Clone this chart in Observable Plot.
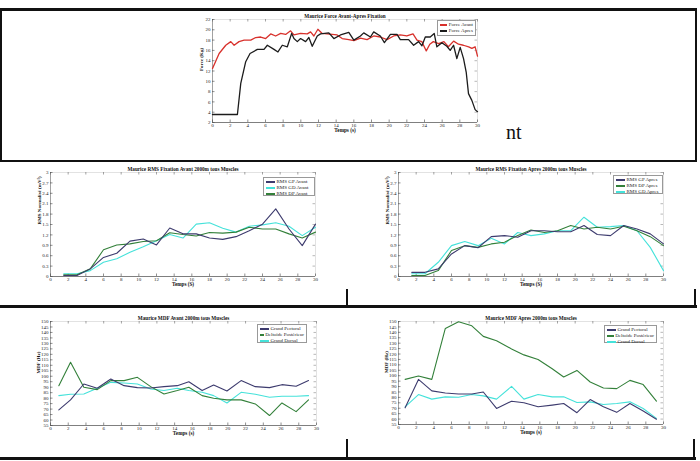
<!DOCTYPE html>
<html>
<head>
<meta charset="utf-8">
<script src="https://cdn.jsdelivr.net/npm/d3@7"></script>
<script src="https://cdn.jsdelivr.net/npm/@observablehq/plot@0.6"></script>
<style>
  html, body { margin: 0; padding: 0; background: #fff; }
  #page { position: relative; width: 700px; height: 461px; overflow: hidden; font-family: "Liberation Serif", "Times New Roman", serif; }
  .rule { position: absolute; background: #111; }
  .panel { position: absolute; }
  .legend { position: absolute; background: #fff; border: 0.7px solid #999; font-size: 5px; line-height: 6px; color: #222; padding: 1px 2px; box-sizing: border-box; }
  .legend .row { display: flex; align-items: center; white-space: nowrap; }
  .legend .swatch { display: inline-block; width: 9px; height: 1.4px; margin-right: 1.5px; }
  .stray { position: absolute; font-size: 20px; line-height: 20px; color: #111; }
</style>
</head>
<body>
<div id="page"></div>
<script>
// ---------- shared axis ticks ----------
const tempsTicks = [0, 2, 4, 6, 8, 10, 12, 14, 16, 18, 20, 22, 24, 26, 28, 30];
const forceTicks = [2, 4, 6, 8, 10, 12, 14, 16, 18, 20, 22];
const rmsTicks = [0, 0.3, 0.6, 0.9, 1.2, 1.5, 1.8, 2.1, 2.4, 2.7, 3];
const mdfTicks = [55, 60, 65, 70, 75, 80, 85, 90, 95, 100, 105, 110, 115, 120, 125, 130, 135, 140, 145, 150];

// ---------- Force (Kg) ----------
const forceAvantT = [0, 0.75, 1.5, 2.07, 2.45, 3.0, 3.58, 4.33, 4.89, 5.46, 6.02, 6.59, 7.15, 7.72, 8.28, 8.84, 9.22, 9.97, 10.73, 11.1, 11.48, 11.93, 12.42, 12.98, 14.11, 14.68, 15.43, 16.0, 16.75, 17.5, 18.25, 19.0, 19.76, 20.51, 21.26, 22.0, 22.7, 23.15, 23.7, 24.2, 24.6, 25.0, 25.6, 26.2, 26.7, 27.3, 27.85, 28.4, 29.0, 29.36, 29.73, 30];
const forceAvant = [12.5, 15.4, 17.0, 17.7, 17.0, 17.7, 18.0, 18.0, 18.5, 18.6, 18.3, 19.2, 18.8, 19.3, 19.1, 19.8, 19.0, 19.3, 19.2, 19.6, 18.8, 20.1, 19.3, 19.2, 19.0, 18.3, 18.1, 17.9, 18.4, 18.1, 18.8, 18.6, 18.1, 18.8, 19.0, 18.8, 19.2, 18.0, 17.7, 15.9, 17.2, 17.7, 17.3, 17.7, 16.7, 17.8, 17.2, 17.0, 16.7, 16.4, 16.7, 14.9];
const forceApresT = [0, 2.82, 3.2, 3.76, 4.25, 5.08, 5.83, 6.21, 6.96, 7.41, 7.9, 8.47, 8.96, 9.22, 9.6, 9.97, 10.54, 10.91, 11.29, 11.86, 12.23, 13.17, 13.74, 14.49, 15.43, 16.0, 16.75, 17.12, 17.88, 18.25, 19.0, 19.46, 20.14, 20.89, 21.26, 22.2, 22.77, 23.33, 23.71, 24.09, 24.65, 25.1, 25.4, 25.97, 26.53, 26.91, 27.29, 27.66, 28.04, 28.42, 28.72, 28.98, 29.36, 29.73, 30];
const forceApres = [3.55, 3.55, 9.6, 13.8, 15.4, 16.2, 16.2, 17.0, 16.2, 15.7, 17.0, 16.7, 19.3, 18.3, 17.7, 18.3, 17.7, 18.5, 16.8, 18.8, 19.2, 19.4, 18.3, 19.0, 19.5, 18.0, 18.8, 19.4, 18.6, 19.6, 18.8, 17.5, 19.1, 19.1, 18.1, 18.1, 17.0, 17.7, 16.9, 18.6, 18.6, 19.3, 16.7, 17.5, 16.8, 16.0, 17.0, 14.4, 16.6, 14.4, 11.8, 7.6, 6.3, 4.5, 4.1];

// ---------- RMS normalisé ----------
const rmsT = [1.5, 3, 4.5, 6, 7.5, 9, 10.5, 12, 13.5, 15, 16.5, 18, 19.5, 21, 22.5, 24, 25.5, 27, 28.5, 30];
const rmsGPAvant = [0.03, 0.03, 0.22, 0.55, 0.67, 1.02, 1.08, 0.91, 1.40, 1.23, 1.23, 1.11, 1.07, 1.15, 1.32, 1.51, 1.95, 1.37, 0.89, 1.51];
const rmsGDAvant = [0.08, 0.08, 0.17, 0.41, 0.51, 0.70, 0.86, 1.03, 1.21, 1.11, 1.51, 1.55, 1.39, 1.28, 1.45, 1.49, 1.55, 1.45, 1.18, 1.42];
const rmsDPAvant = [0.05, 0.05, 0.22, 0.77, 0.91, 0.94, 1.01, 1.03, 1.26, 1.21, 1.17, 1.27, 1.25, 1.28, 1.42, 1.37, 1.37, 1.23, 1.11, 1.28];
const rmsGPApres = [0.12, 0.12, 0.22, 0.65, 0.89, 0.83, 1.15, 1.18, 1.13, 1.32, 1.32, 1.29, 1.29, 1.47, 1.21, 1.18, 1.47, 1.37, 1.23, 0.94];
const rmsDPApres = [0.03, 0.03, 0.17, 0.75, 0.89, 0.84, 0.94, 0.99, 1.18, 1.34, 1.27, 1.32, 1.47, 1.37, 1.42, 1.37, 1.45, 1.32, 1.15, 0.89];
const rmsGDApres = [0.08, 0.08, 0.41, 0.89, 1.01, 0.89, 1.10, 0.94, 1.27, 1.18, 1.23, 1.32, 1.32, 1.71, 1.42, 1.44, 1.47, 1.32, 0.84, 0.17];

// ---------- MDF (Hz) ----------
const mdfAvantT = [0.94, 2.26, 3.76, 5.27, 6.8, 8.3, 9.8, 11.3, 12.8, 14.3, 15.6, 17.1, 18.4, 19.9, 21.5, 23.1, 24.7, 26.1, 27.7, 29.1];
const mdfGPAvant = [69.2, 78.4, 92.9, 89.0, 97.5, 91.4, 89.6, 89.3, 90.5, 91.4, 95.0, 86.9, 92.0, 86.5, 96.0, 90.5, 89.6, 92.3, 90.8, 96.0];
const mdfDPAvant = [91.4, 112.7, 89.9, 87.8, 96.0, 96.0, 99.0, 90.5, 83.8, 86.9, 89.9, 82.3, 79.9, 78.4, 78.4, 74.7, 64.1, 75.6, 67.7, 78.4];
const mdfGDAvant = [82.3, 83.5, 83.8, 89.0, 94.4, 93.8, 92.9, 88.3, 86.9, 89.0, 86.9, 85.3, 82.3, 75.6, 85.3, 83.5, 80.8, 81.7, 81.7, 82.3];
const mdfApresT = [0.75, 2.26, 3.77, 5.3, 6.8, 8.3, 9.6, 11.1, 12.8, 14.2, 15.8, 17.4, 18.7, 20.2, 21.7, 23.2, 24.7, 26.2, 27.7, 29.2];
const mdfGPApres = [70.4, 96.6, 86.0, 84.1, 83.2, 83.2, 85.0, 69.8, 76.5, 75.0, 71.3, 72.9, 74.4, 65.9, 78.0, 71.3, 66.2, 74.4, 67.4, 59.8];
const mdfDPApres = [96.6, 99.7, 96.6, 143.6, 149.7, 146.0, 136.3, 132.3, 124.7, 119.2, 115.0, 106.4, 98.8, 104.9, 94.2, 88.7, 88.1, 95.7, 91.8, 76.5];
const mdfGDApres = [71.3, 82.6, 78.4, 80.5, 80.2, 82.6, 81.4, 78.4, 90.2, 78.4, 82.6, 80.5, 80.5, 75.3, 75.9, 73.5, 74.4, 75.9, 69.8, 60.7];

// ---------- colours ----------
const RED = "#d8312c", BLACK = "#1c1c1c", NAVY = "#3d3b6e", GREEN = "#33803a", CYAN = "#45e2da";

const page = document.getElementById("page");

function rule(left, top, width, height) {
  const d = document.createElement("div");
  d.className = "rule";
  Object.assign(d.style, {left: left + "px", top: top + "px", width: width + "px", height: height + "px"});
  page.appendChild(d);
}

function legend(left, top, width, height, entries) {
  const box = document.createElement("div");
  box.className = "legend";
  Object.assign(box.style, {left: left + "px", top: top + "px", width: width + "px", height: height + "px"});
  for (const [label, color] of entries) {
    const row = document.createElement("div");
    row.className = "row";
    const sw = document.createElement("span");
    sw.className = "swatch";
    sw.style.background = color;
    row.appendChild(sw);
    row.appendChild(document.createTextNode(label));
    box.appendChild(row);
  }
  page.appendChild(box);
}

// One MATLAB-style panel: plot area placed at (px, py) with size pw x ph
function panel({px, py, pw, ph, yDomain, yTicks, yFormat, title, yLabel, xLabel, ylabelDx, series, strokeWidth}) {
  const mL = 30, mR = 8, mT = 12, mB = 16;
  const chart = Plot.plot({
    width: pw + mL + mR,
    height: ph + mT + mB,
    marginLeft: mL, marginRight: mR, marginTop: mT, marginBottom: mB,
    style: {fontFamily: "'Liberation Serif', serif", fontSize: "5px", color: "#222", background: "transparent", overflow: "visible"},
    x: {domain: [0, 30], axis: null},
    y: {domain: yDomain, axis: null},
    marks: [
      Plot.frame({stroke: "#cfcfcf", strokeWidth: 0.6}),
      Plot.ruleY([yDomain[0]], {stroke: "#555", strokeWidth: 0.7}),
      Plot.ruleX([0], {stroke: "#777", strokeWidth: 0.6}),
      // inward ticks on all four sides
      Plot.tickX(tempsTicks, {x: d => d, insetTop: ph - 2.5, stroke: "#444", strokeWidth: 0.6}),
      Plot.tickX(tempsTicks, {x: d => d, insetBottom: ph - 2.5, stroke: "#666", strokeWidth: 0.6}),
      Plot.tickY(yTicks, {y: d => d, insetRight: pw - 2.5, stroke: "#444", strokeWidth: 0.6}),
      Plot.tickY(yTicks, {y: d => d, insetLeft: pw - 2.5, stroke: "#888", strokeWidth: 0.6}),
      // tick labels
      Plot.text(tempsTicks, {x: d => d, frameAnchor: "bottom", dy: 4, text: d => String(d), fontSize: 5, fill: "#222"}),
      Plot.text(yTicks, {y: d => d, frameAnchor: "left", dx: -2, textAnchor: "end", text: yFormat, fontSize: 5, fill: "#222"}),
      // data
      ...series.map(s => Plot.line(s.values, {x: (d, i) => s.t[i], y: d => d, stroke: s.color, strokeWidth: strokeWidth, curve: "linear"})),
      // labels
      Plot.text([title], {frameAnchor: "top", dy: -5, fontWeight: "bold", fontSize: 5.2, fill: "#111"}),
      Plot.text([xLabel], {frameAnchor: "bottom", dy: 9, fontWeight: "bold", fontSize: 5.2, fill: "#111"}),
      Plot.text([yLabel], {frameAnchor: "left", rotate: -90, dx: ylabelDx, fontWeight: "bold", fontSize: 5, fill: "#111"})
    ]
  });
  const wrap = document.createElement("div");
  wrap.className = "panel";
  wrap.style.left = (px - mL) + "px";
  wrap.style.top = (py - mT) + "px";
  wrap.appendChild(chart);
  page.appendChild(wrap);
}

const fmt = d => String(d);

// Force before / after fixation
panel({
  px: 212, py: 19, pw: 265, ph: 103, yDomain: [2, 22], yTicks: forceTicks, yFormat: fmt,
  title: "Maurice Force Avant-Apres Fixation", yLabel: "Force (Kg)", xLabel: "Temps (s)", ylabelDx: -11,
  strokeWidth: 1.3,
  series: [
    {t: forceAvantT, values: forceAvant, color: RED},
    {t: forceApresT, values: forceApres, color: BLACK}
  ]
});
legend(437, 20, 39, 16, [["Force Avant", RED], ["Force Apres", BLACK]]);

// RMS before
panel({
  px: 50, py: 172, pw: 265, ph: 104, yDomain: [0, 3], yTicks: rmsTicks, yFormat: fmt,
  title: "Maurice RMS Fixation Avant 2000m tous Muscles", yLabel: "RMS Normalisé (mV²)", xLabel: "Temps (S)", ylabelDx: -11,
  strokeWidth: 1.1,
  series: [
    {t: rmsT, values: rmsGDAvant, color: CYAN},
    {t: rmsT, values: rmsDPAvant, color: GREEN},
    {t: rmsT, values: rmsGPAvant, color: NAVY}
  ]
});
legend(263, 177, 52, 19, [["RMS GP Avant", NAVY], ["RMS GD Avant", CYAN], ["RMS DP Avant", GREEN]]);

// RMS after
panel({
  px: 398, py: 172, pw: 265, ph: 104, yDomain: [0, 3], yTicks: rmsTicks, yFormat: fmt,
  title: "Maurice RMS Fixation Apres 2000m tous Muscles", yLabel: "RMS Normalisé (mV²)", xLabel: "Temps (S)", ylabelDx: -11,
  strokeWidth: 1.1,
  series: [
    {t: rmsT, values: rmsGDApres, color: CYAN},
    {t: rmsT, values: rmsDPApres, color: GREEN},
    {t: rmsT, values: rmsGPApres, color: NAVY}
  ]
});
legend(613, 175, 50, 19, [["RMS GP Apres", NAVY], ["RMS DP Apres", GREEN], ["RMS GD Apres", CYAN]]);

// MDF before
panel({
  px: 50, py: 321, pw: 266, ph: 104, yDomain: [55, 150], yTicks: mdfTicks, yFormat: fmt,
  title: "Maurice MDF Avant 2000m tous Muscles", yLabel: "MDF (Hz)", xLabel: "Temps (s)", ylabelDx: -12,
  strokeWidth: 1.1,
  series: [
    {t: mdfAvantT, values: mdfGDAvant, color: CYAN},
    {t: mdfAvantT, values: mdfDPAvant, color: GREEN},
    {t: mdfAvantT, values: mdfGPAvant, color: NAVY}
  ]
});
legend(257, 324, 50, 19, [["Grand Pectoral", NAVY], ["Deltoïde Postérieur", GREEN], ["Grand Dorsal", CYAN]]);

// MDF after
panel({
  px: 398, py: 321, pw: 265, ph: 103, yDomain: [55, 150], yTicks: mdfTicks, yFormat: fmt,
  title: "Maurice MDF Apres 2000m tous Muscles", yLabel: "MDF (Hz)", xLabel: "Temps (s)", ylabelDx: -12,
  strokeWidth: 1.1,
  series: [
    {t: mdfApresT, values: mdfGDApres, color: CYAN},
    {t: mdfApresT, values: mdfDPApres, color: GREEN},
    {t: mdfApresT, values: mdfGPApres, color: NAVY}
  ]
});
legend(604, 325, 53, 18, [["Grand Pectoral", NAVY], ["Deltoïde Postérieur", GREEN], ["Grand Dorsal", CYAN]]);

// document frame lines
rule(0, 8, 697, 2.5);      // top edge
rule(0, 8, 1.5, 153);      // left edge of top box
rule(695, 8, 2, 153);      // right edge of top box
rule(0, 159.5, 697, 2);    // bottom of top box
rule(346, 289, 2, 18);     // middle divider, second row
rule(694, 289, 2, 18);     // right edge, second row
rule(0, 305, 697, 2.5);    // bottom of second row
rule(346, 439, 2, 20);     // middle divider, third row
rule(693, 439, 2, 20);     // right edge, third row
rule(0, 457, 696, 2.5);    // bottom of third row

// stray text fragment at the right of the top box
const stray = document.createElement("div");
stray.className = "stray";
stray.style.left = "506px";
stray.style.top = "122px";
stray.textContent = "nt";
page.appendChild(stray);
</script>
</body>
</html>
